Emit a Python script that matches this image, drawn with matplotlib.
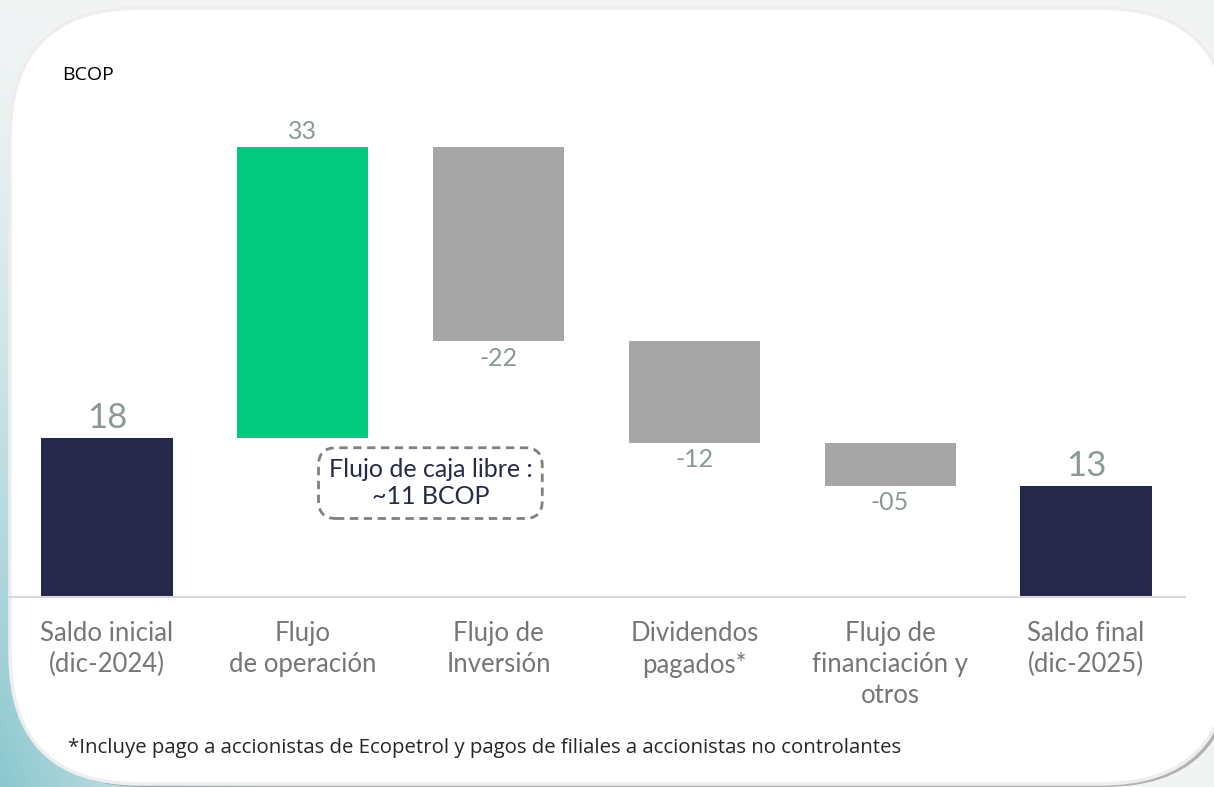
import matplotlib
matplotlib.use("Agg")
import matplotlib.pyplot as plt
import numpy as np
from matplotlib.patches import FancyBboxPatch

# data (BCOP)
categories = ["Saldo inicial\n(dic-2024)", "Flujo\nde operación", "Flujo de\nInversión",
              "Dividendos\npagados*", "Flujo de\nfinanciación y\notros", "Saldo final\n(dic-2025)"]
start_balance = 18.0
flows = [33.0, -22.0, -11.5, -4.9]
end_balance = 12.6
value_labels = ["18", "33", "-22", "-12", "-05", "13"]

NAVY = "#25284a"
GREEN = "#03c97e"
GREY = "#a6a6a6"
LABEL_C = "#8b9a90"
CAT_C = "#767676"

plt.rcParams['font.family'] = ['Lato', 'DejaVu Sans']

W, H = 1214, 787
fig = plt.figure(figsize=(W / 100, H / 100), dpi=100)

# background: teal wash along the left edge + rounded white panel
bg = fig.add_axes([0, 0, 1, 1], zorder=0)
bg.set_xlim(0, W)
bg.set_ylim(H, 0)
bg.axis('off')
yy, xx = np.mgrid[0:H, 0:W]
w = np.clip((yy / H) ** 1.3 * (1 - xx / 260.0), 0, 1)
teal = np.array([0.54, 0.78, 0.81])
base = np.array([0.95, 0.96, 0.96])
img = base * (1 - w[..., None]) + teal * w[..., None]
bg.imshow(img, extent=(0, W, H, 0), aspect='auto', zorder=0)
shadow = FancyBboxPatch((14, 13), 1220, 774, boxstyle="round,pad=0,rounding_size=130",
                        fc="#7a7a7a", ec="none", alpha=0.55, zorder=1)
bg.add_patch(shadow)
panel = FancyBboxPatch((10, 8), 1220, 776, boxstyle="round,pad=0,rounding_size=130",
                       fc="white", ec="#eeeeee", lw=2.5, zorder=2)
bg.add_patch(panel)

# waterfall
ax = fig.add_axes([10 / W, (H - 597) / H, 1175 / W, 497 / H], zorder=1)
ax.patch.set_alpha(0)
x = np.arange(len(categories))
bottoms, heights, colors = [0.0], [start_balance], [NAVY]
level = start_balance
for f in flows:
    if f >= 0:
        bottoms.append(level)
        heights.append(f)
        colors.append(GREEN)
    else:
        bottoms.append(level + f)
        heights.append(-f)
        colors.append(GREY)
    level += f
bottoms.append(0.0)
heights.append(end_balance)
colors.append(NAVY)

ax.bar(x, heights, bottom=bottoms, width=0.67, color=colors)

last = len(value_labels) - 1
for i, lab in enumerate(value_labels):
    big = i in (0, last)
    size = 25 if big else 18
    if big or flows[i - 1] >= 0:
        ax.annotate(lab, (x[i], bottoms[i] + heights[i]), xytext=(0, 3), textcoords='offset points',
                    ha='center', va='bottom', fontsize=size, color=LABEL_C)
    else:
        ax.annotate(lab, (x[i], bottoms[i]), xytext=(0, -4), textcoords='offset points',
                    ha='center', va='top', fontsize=size, color=LABEL_C)

ax.set_xlim(-0.495, 5.506)
ax.set_ylim(0, 56.3)
ax.set_xticks(x)
ax.set_xticklabels(categories, fontsize=18.5, color=CAT_C, linespacing=1.3)
ax.tick_params(axis='x', length=0, pad=17)
ax.set_yticks([])
for s in ['top', 'right', 'left']:
    ax.spines[s].set_visible(False)
ax.spines['bottom'].set_color('#d9d9d9')
ax.spines['bottom'].set_linewidth(1.5)

# free cash flow callout
ax.text(1.652, 12.9, "Flujo de caja libre :\n~11 BCOP", ha='center', va='center', fontsize=18,
        color="#262a4a", linespacing=1.25,
        bbox=dict(boxstyle="round,pad=0.4,rounding_size=0.7", fc="white", ec="#808080",
                  lw=2, ls=(0, (3, 2))))

fig.text(62 / W, 1 - 75 / H, "BCOP", ha='left', va='center', fontsize=14, color='black',
         family=['Open Sans', 'DejaVu Sans'])
fig.text(68 / W, 1 - 748 / H,
         "*Incluye pago a accionistas de Ecopetrol y pagos de filiales a accionistas no controlantes",
         ha='left', va='center', fontsize=14.7, color='#262626', family=['Open Sans', 'DejaVu Sans'])

fig.savefig("out.png", dpi=100)
